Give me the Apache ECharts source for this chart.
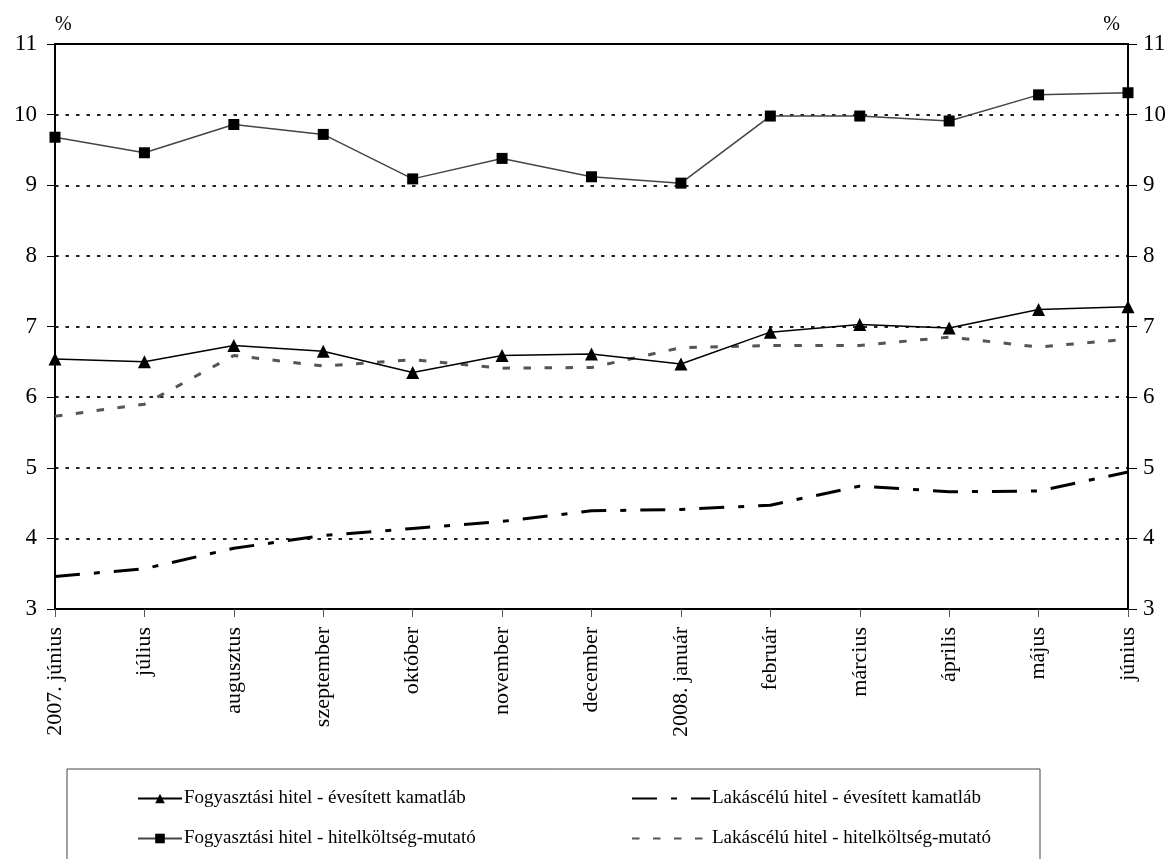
<!DOCTYPE html>
<html><head><meta charset="utf-8">
<script src="https://cdn.jsdelivr.net/npm/echarts@6/dist/echarts.min.js"></script>
<style>html,body{margin:0;padding:0;background:#fff}#c{width:1176px;height:859px}</style>
</head><body><div id="c"></div>
<script>
const categories = ['2007. június','július','augusztus','szeptember','október','november','december','2008. január','február','március','április','május','június'];
const fogyEves = [6.54,6.50,6.73,6.65,6.35,6.59,6.61,6.47,6.92,7.03,6.98,7.24,7.28];
const fogyThm  = [9.68,9.46,9.86,9.72,9.09,9.38,9.12,9.03,9.98,9.98,9.91,10.28,10.31];
const lakasEves = [3.46,3.57,3.86,4.04,4.14,4.24,4.39,4.41,4.47,4.74,4.66,4.67,4.94];
const lakasThm  = [5.73,5.90,6.59,6.44,6.53,6.41,6.42,6.70,6.73,6.73,6.85,6.71,6.82];
const names = ['Fogyasztási hitel - évesített kamatláb','Fogyasztási hitel - hitelköltség-mutató','Lakáscélú hitel - évesített kamatláb','Lakáscélú hitel - hitelköltség-mutató'];

const FONT = 'Liberation Serif';
const chart = echarts.init(document.getElementById('c'), null, {renderer:'canvas'});
const legendBase = {orient:'horizontal', padding:0, itemGap:4, textStyle:{fontFamily:FONT,fontSize:19,color:'#000',padding:[0,0,0,-3]}, selectedMode:false};
chart.setOption({
  animation:false,
  backgroundColor:'#fff',
  grid:{left:55,right:48,top:44,bottom:250,containLabel:false},
  xAxis:[{
    type:'category', data:categories, boundaryGap:false,
    axisLine:{lineStyle:{color:'#000',width:2}},
    axisTick:{show:true,alignWithLabel:true,length:8,lineStyle:{color:'#555',width:1}},
    axisLabel:{rotate:90,margin:18,fontFamily:FONT,fontSize:22,color:'#000',interval:0},
    splitLine:{show:false}
  },{
    type:'category', data:categories, boundaryGap:false, position:'top',
    axisLine:{lineStyle:{color:'#000',width:2}}, axisTick:{show:false}, axisLabel:{show:false}
  }],
  yAxis:[{
    type:'value', min:3, max:11, interval:1, position:'left',
    name:'%', nameLocation:'end', nameGap:19,
    nameTextStyle:{fontFamily:FONT,fontSize:20,color:'#000',align:'left',verticalAlign:'middle'},
    axisLine:{show:true,lineStyle:{color:'#000',width:2}},
    axisTick:{show:true,length:8,lineStyle:{color:'#000',width:1}},
    axisLabel:{margin:18,fontFamily:FONT,fontSize:23,color:'#000'},
    splitLine:{show:true,lineStyle:{color:'#222',width:2,type:[3.5,7]}}
  },{
    type:'value', min:3, max:11, interval:1, position:'right',
    name:'%', nameLocation:'end', nameGap:19,
    nameTextStyle:{fontFamily:FONT,fontSize:20,color:'#000',align:'right',verticalAlign:'middle',padding:[0,8,0,0]},
    axisLine:{show:true,lineStyle:{color:'#000',width:2}},
    axisTick:{show:true,length:9,lineStyle:{color:'#000',width:1}},
    axisLabel:{margin:15,fontFamily:FONT,fontSize:23,color:'#000'},
    splitLine:{show:false}
  }],
  legend:[
    Object.assign({}, legendBase, {data:[names[0]], left:137, top:789, itemWidth:44, itemHeight:12}),
    Object.assign({}, legendBase, {data:[names[2]], left:631, top:789, itemWidth:78, itemHeight:12, itemStyle:{opacity:0}}),
    Object.assign({}, legendBase, {data:[names[1]], left:137, top:829, itemWidth:44, itemHeight:12}),
    Object.assign({}, legendBase, {data:[names[3]], left:631, top:829, itemWidth:78, itemHeight:12, itemStyle:{opacity:0}})
  ],
  graphic:[{type:'rect', shape:{x:67,y:769,width:973,height:110}, style:{fill:'none',stroke:'#444',lineWidth:1}, silent:true}],
  series:[
    {name:names[0], type:'line', data:fogyEves, symbol:'triangle', symbolSize:13, showSymbol:true,
      itemStyle:{color:'#000'}, lineStyle:{color:'#000',width:1.5}, z:5},
    {name:names[1], type:'line', data:fogyThm, symbol:'rect', symbolSize:11,
      itemStyle:{color:'#000'}, lineStyle:{color:'#444',width:1.5}, z:5},
    {name:names[2], type:'line', data:lakasEves, symbol:'none',
      itemStyle:{color:'#000'}, lineStyle:{color:'#000',width:3,type:[25,14,6,14]}, z:4},
    {name:names[3], type:'line', data:lakasThm, symbol:'none',
      itemStyle:{color:'#555'}, lineStyle:{color:'#555',width:3,type:[7.5,13.5]}, z:4}
  ]
});
</script></body></html>
